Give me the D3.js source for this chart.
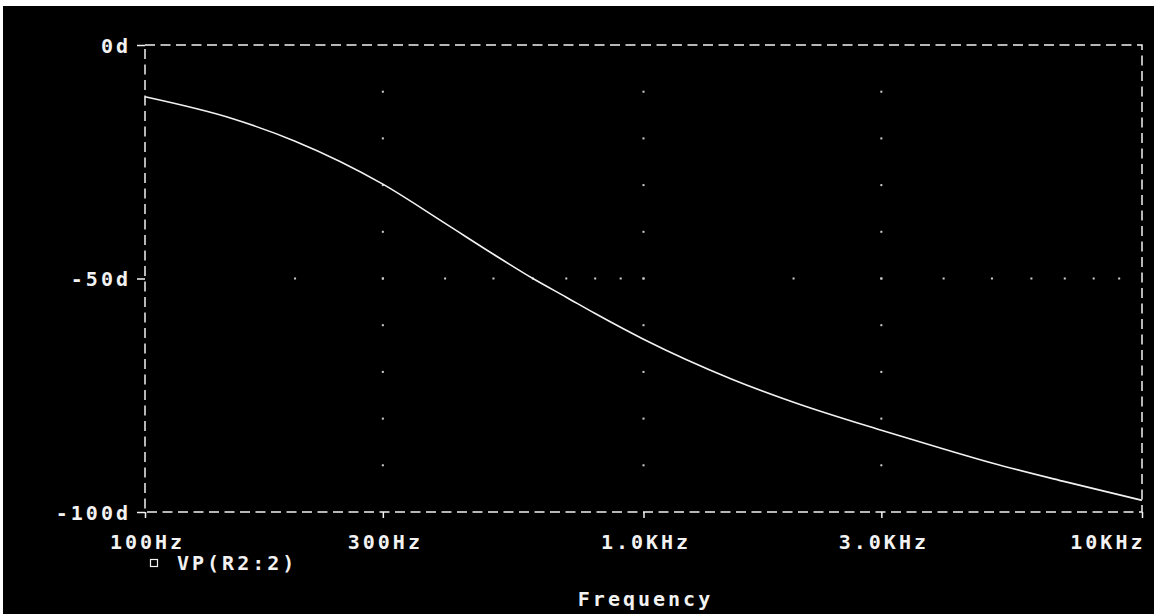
<!DOCTYPE html>
<html>
<head>
<meta charset="utf-8">
<script src="https://cdn.jsdelivr.net/npm/d3@7"></script>
<style>
  html, body { margin: 0; padding: 0; background: #fff; }
  svg text { font-family: "DejaVu Sans Mono", monospace; font-weight: bold; font-size: 20px; fill: #f2f2f2; letter-spacing: 3px; }
</style>
</head>
<body>
<svg id="chart" width="1154" height="614"></svg>
<script>
// phase of VP(R2:2)
var freqs = [100, 150, 200, 300, 400, 500, 600, 700, 800, 1000, 1500, 2000, 3000, 4000, 5000, 7000, 10000];
var phase = [-11.1, -15.8, -20.6, -29.8, -38.2, -44.8, -50.0, -54.0, -57.5, -63.0, -71.5, -76.5, -82.5, -86.5, -89.5, -93.5, -97.5];

var xTicks = [100, 300, 1000, 3000, 10000];
var xTickLabels = ['100Hz', '300Hz', '1.0KHz', '3.0KHz', '10KHz'];
var yTicks = [0, -50, -100];
var yTickLabels = ['0d', '-50d', '-100d'];
var gridX = [300, 1000, 3000];
var gridY = [-50];
var minorX = [200, 300, 400, 500, 600, 700, 800, 900, 1000, 2000, 3000, 4000, 5000, 6000, 7000, 8000, 9000];
var minorY = [-10, -20, -30, -40, -50, -60, -70, -80, -90];

(function (d3) {
  'use strict';
  var svg = d3.select('#chart');
  var left = 145, right = 1142, top = 45, bottom = 512;
  var ink = '#f2f2f2';

  svg.append('rect').attr('x', 3).attr('y', 6).attr('width', 1151).attr('height', 608).attr('fill', '#000');

  var x = d3.scaleLog().domain([100, 10000]).range([left, right]);
  var y = d3.scaleLinear().domain([-100, 0]).range([bottom, top]);

  /** dotted grid */
  var dots = svg.append('g').attr('fill', '#cfcfcf');
  gridX.forEach(function (f) {
    dots.selectAll(null).data(minorY).enter().append('rect')
      .attr('x', x(f) - 1).attr('y', function (d) { return y(d) - 1; })
      .attr('width', 2).attr('height', 2);
  });
  gridY.forEach(function (v) {
    dots.selectAll(null).data(minorX).enter().append('rect')
      .attr('x', function (d) { return x(d) - 1; }).attr('y', y(v) - 1)
      .attr('width', 2).attr('height', 2);
  });

  /** dashed frame */
  svg.append('rect')
    .attr('x', left).attr('y', top).attr('width', right - left).attr('height', bottom - top)
    .attr('fill', 'none').attr('stroke', ink).attr('stroke-width', 1.5)
    .attr('stroke-dasharray', '10,5.5');

  /** axes */
  var yAxis = d3.axisLeft(y).tickValues(yTicks).tickSize(8).tickPadding(9)
    .tickFormat(function (d, i) { return yTickLabels[i]; });
  var gy = svg.append('g').attr('transform', 'translate(' + left + ',0)').call(yAxis);
  gy.select('.domain').remove();
  gy.selectAll('line').attr('stroke', ink).attr('stroke-width', 1.5);
  gy.selectAll('text').attr('dy', '7px').attr('dx', '3px').attr('font-family', null).attr('font-size', null);

  var xAxis = d3.axisBottom(x).tickValues(xTicks).tickSize(6)
    .tickFormat(function (d, i) { return xTickLabels[i]; });
  var gx = svg.append('g').attr('transform', 'translate(0,' + bottom + ')').call(xAxis);
  gx.select('.domain').remove();
  gx.selectAll('line').attr('stroke', ink).attr('stroke-width', 1.5);
  gx.selectAll('text').attr('y', 37).attr('dy', 0).attr('dx', '2px')
    .attr('font-family', null).attr('font-size', null);
  gx.selectAll('text').filter(function (d) { return d === 10000; })
    .attr('text-anchor', 'end').attr('dx', '3px');

  /** trace */
  var line = d3.line()
    .x(function (d, i) { return x(freqs[i]); })
    .y(function (d) { return y(d); })
    .curve(d3.curveMonotoneX);
  svg.append('path').datum(phase)
    .attr('d', line).attr('fill', 'none').attr('stroke', ink).attr('stroke-width', 1.6);

  /** legend + axis title */
  svg.append('rect').attr('x', 150.5).attr('y', 559.5).attr('width', 7).attr('height', 7)
    .attr('fill', 'none').attr('stroke', ink).attr('stroke-width', 1.2);
  svg.append('text').attr('x', 177).attr('y', 570).text('VP(R2:2)');
  svg.append('text').attr('x', x(1000) + 2).attr('y', 606)
    .attr('text-anchor', 'middle').text('Frequency');
})(d3);
</script>
</body>
</html>
